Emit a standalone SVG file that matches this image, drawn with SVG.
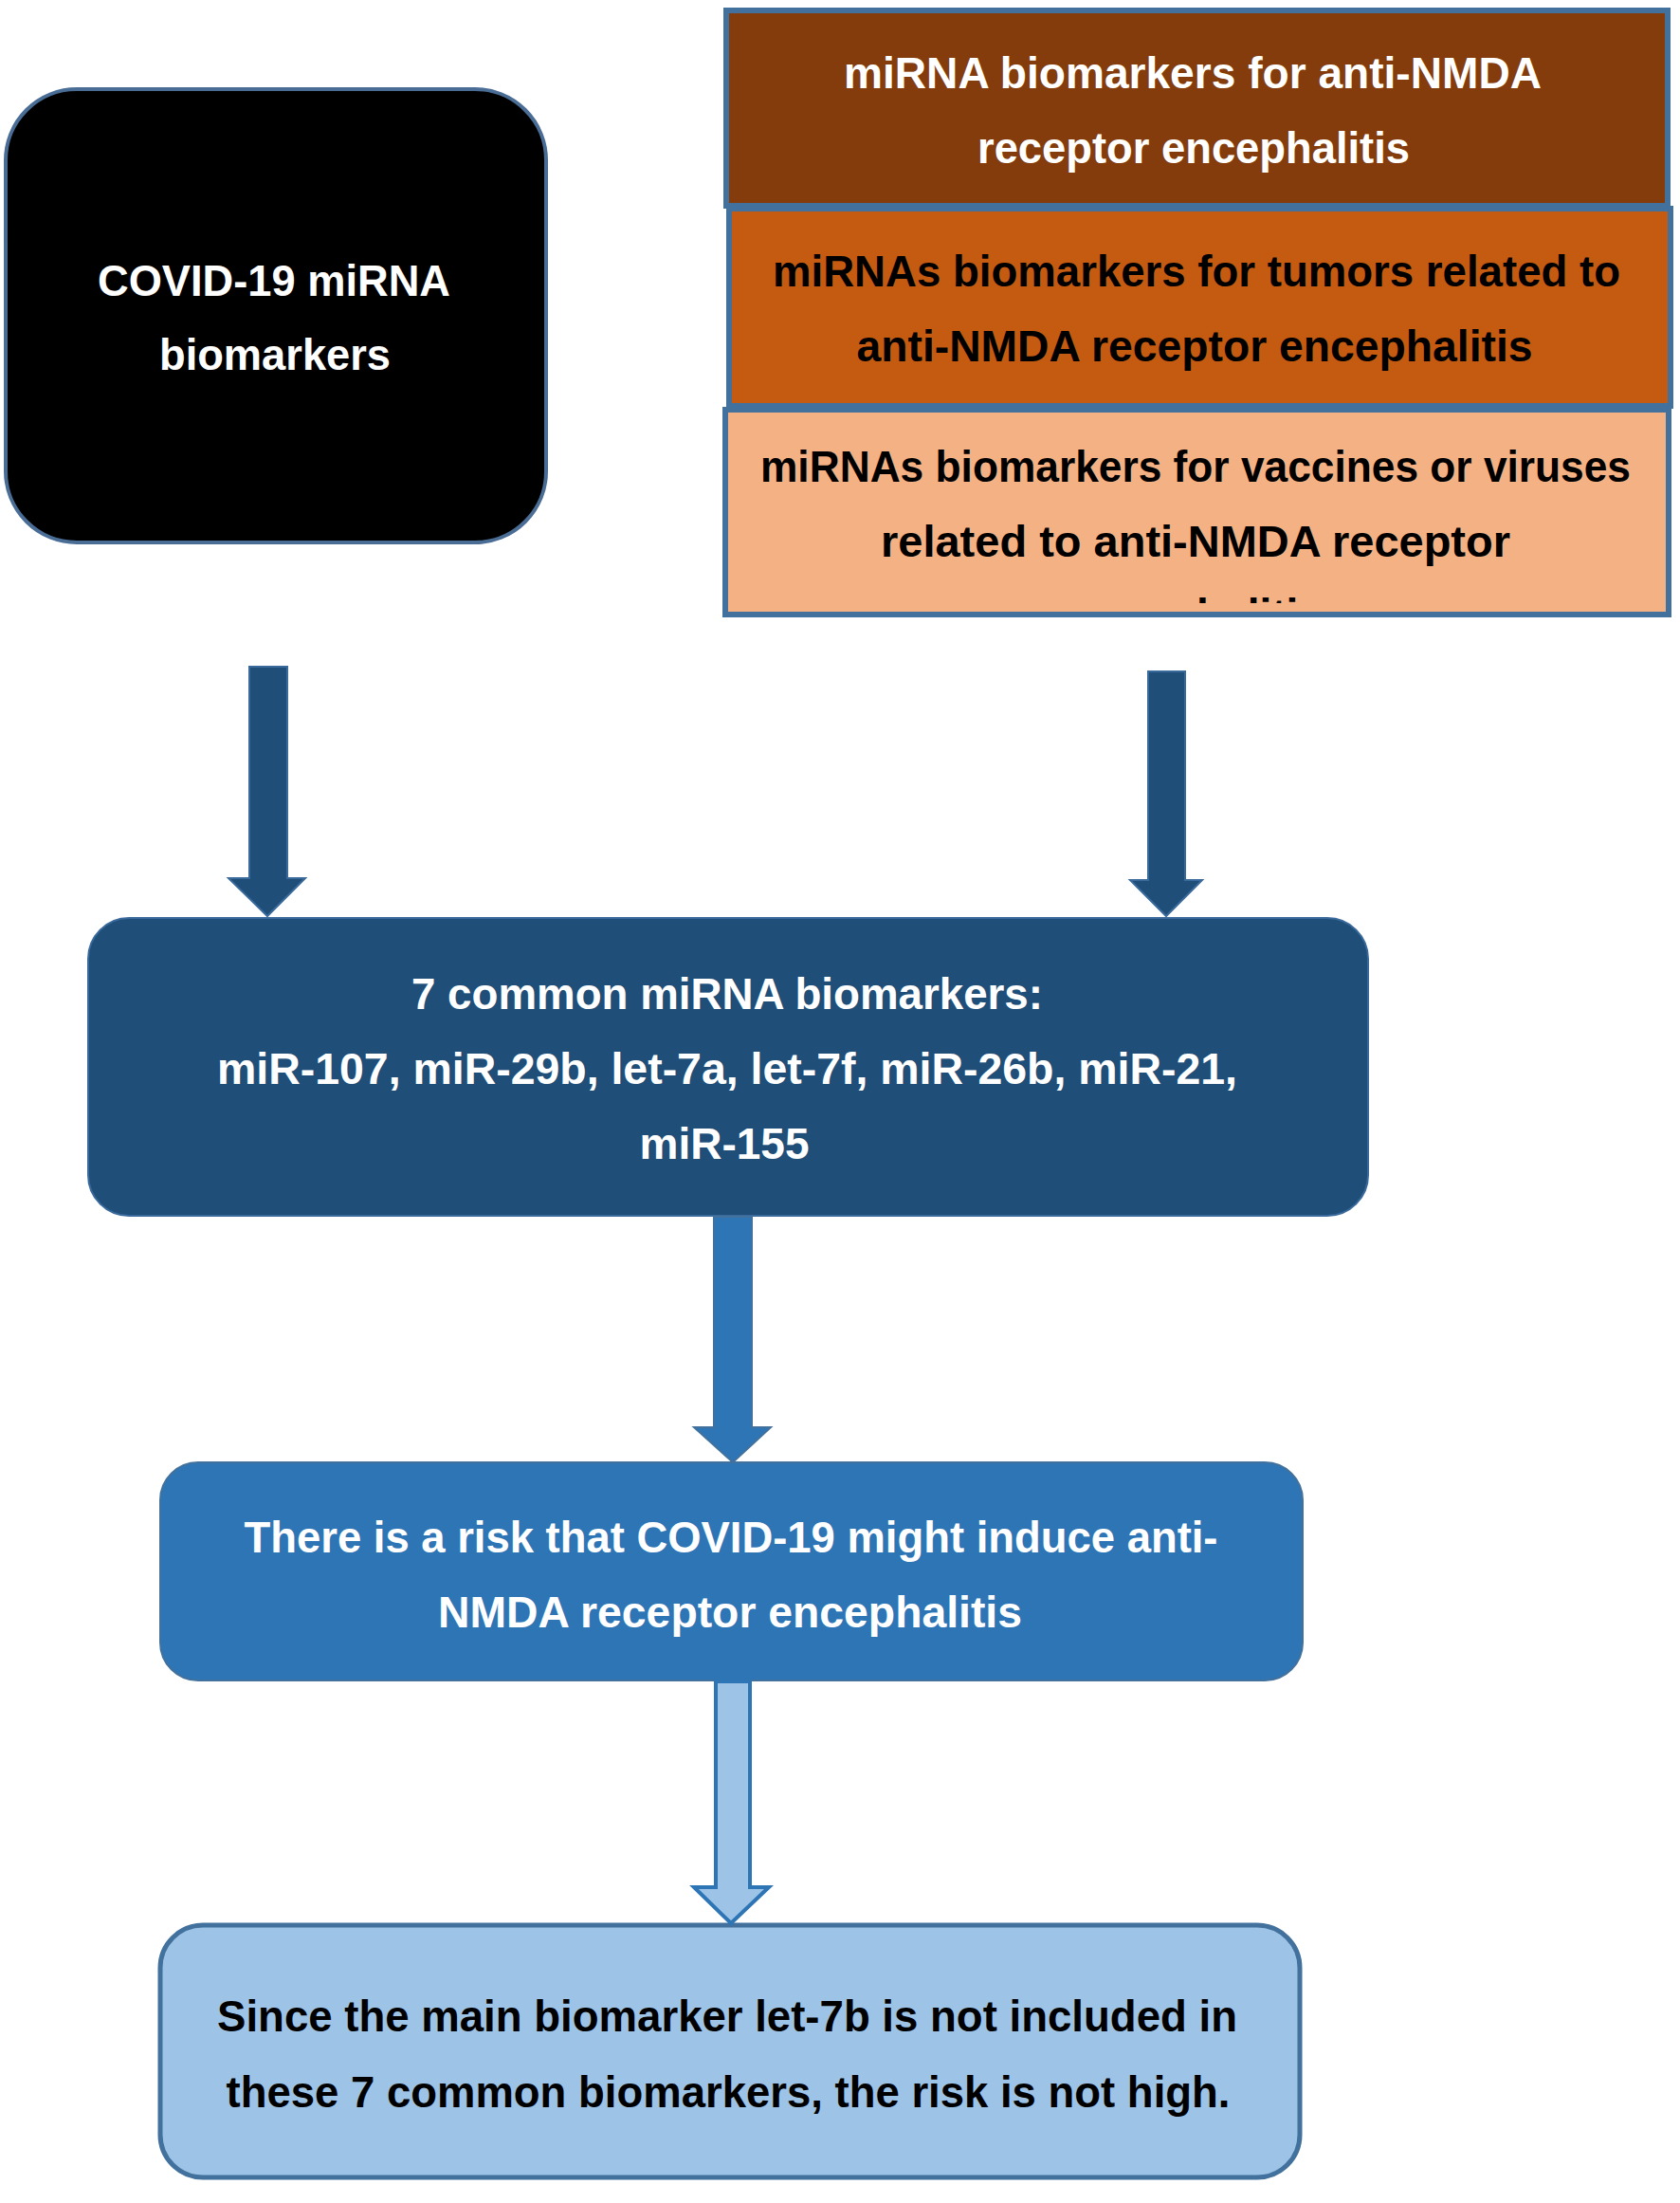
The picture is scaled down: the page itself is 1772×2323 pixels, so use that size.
<svg xmlns="http://www.w3.org/2000/svg" width="1772" height="2323" viewBox="0 0 1772 2323">
<style>
  text { font-family: "Liberation Sans", Arial, sans-serif; font-weight: bold; font-size: 46px; text-anchor: middle; }
  .w { fill: #ffffff; }
  .k { fill: #000000; }
  .stack { stroke: #41719c; stroke-width: 6; }
</style>
<defs>
  <clipPath id="clip3"><rect x="768" y="435" width="989" height="201"/></clipPath>
</defs>
<rect x="0" y="0" width="1772" height="2323" fill="#ffffff"/>

<g id="covid">
  <rect x="6" y="94" width="570" height="478" rx="75" ry="75" fill="#000000" stroke="#4a6d96" stroke-width="4"/>
  <text class="w" x="289" y="312" textLength="372" lengthAdjust="spacingAndGlyphs">COVID-19 miRNA</text>
  <text class="w" x="290" y="390" textLength="244" lengthAdjust="spacingAndGlyphs">biomarkers</text>
</g>

<g id="nmda">
  <rect class="stack" x="766" y="11" width="993" height="206" fill="#843c0c"/>
  <text class="w" x="1258" y="93" textLength="736" lengthAdjust="spacingAndGlyphs">miRNA biomarkers for anti-NMDA</text>
  <text class="w" x="1259" y="172" textLength="456" lengthAdjust="spacingAndGlyphs">receptor encephalitis</text>
</g>

<g id="tumors">
  <rect class="stack" x="769" y="220" width="993" height="208" fill="#c55a11"/>
  <text class="k" x="1262" y="302" textLength="894" lengthAdjust="spacingAndGlyphs">miRNAs biomarkers for tumors related to</text>
  <text class="k" x="1260" y="381" textLength="713" lengthAdjust="spacingAndGlyphs">anti-NMDA receptor encephalitis</text>
</g>

<g id="vaccines">
  <rect class="stack" x="765" y="432" width="995" height="216" fill="#f4b183"/>
  <text class="k" x="1261" y="508" textLength="918" lengthAdjust="spacingAndGlyphs">miRNAs biomarkers for vaccines or viruses</text>
  <text class="k" x="1261" y="587" textLength="664" lengthAdjust="spacingAndGlyphs">related to anti-NMDA receptor</text>
  <text class="k" x="1262" y="664" clip-path="url(#clip3)">encephalitis</text>
</g>

<g id="common">
  <rect x="93" y="968" width="1350" height="314" rx="43" ry="43" fill="#1f4e79" stroke="#3a6a9c" stroke-width="2"/>
  <text class="w" x="767" y="1064" textLength="666" lengthAdjust="spacingAndGlyphs">7 common miRNA biomarkers:</text>
  <text class="w" x="767" y="1143" textLength="1076" lengthAdjust="spacingAndGlyphs">miR-107, miR-29b, let-7a, let-7f, miR-26b, miR-21,</text>
  <text class="w" x="764" y="1222" textLength="179" lengthAdjust="spacingAndGlyphs">miR-155</text>
</g>

<g id="risk">
  <rect x="169" y="1542" width="1205" height="230" rx="40" ry="40" fill="#2e75b6" stroke="#41719c" stroke-width="2"/>
  <text class="w" x="771" y="1637" textLength="1027" lengthAdjust="spacingAndGlyphs">There is a risk that COVID-19 might induce anti-</text>
  <text class="w" x="770" y="1716" textLength="616" lengthAdjust="spacingAndGlyphs">NMDA receptor encephalitis</text>
</g>

<g id="conclusion">
  <rect x="169" y="2030" width="1202" height="266" rx="45" ry="45" fill="#9dc3e6" stroke="#41719c" stroke-width="5"/>
  <text class="k" x="767" y="2142" textLength="1076" lengthAdjust="spacingAndGlyphs">Since the main biomarker let-7b is not included in</text>
  <text class="k" x="768" y="2222" textLength="1059" lengthAdjust="spacingAndGlyphs">these 7 common biomarkers, the risk is not high.</text>
</g>

<g id="connectors">
  <path d="M263,703 L303,703 L303,926 L322,926 L282,966 L241,926 L263,926 Z" fill="#1f4e79" stroke="#3a6a9c" stroke-width="2"/>
  <path d="M1211,708 L1250,708 L1250,928 L1268,928 L1230,966 L1192,928 L1211,928 Z" fill="#1f4e79" stroke="#3a6a9c" stroke-width="2"/>
  <path d="M753,1283 L793,1283 L793,1505 L813,1505 L773,1542 L732,1505 L753,1505 Z" fill="#2e75b6" stroke="#41719c" stroke-width="2"/>
  <path d="M755,1773 L791,1773 L791,1990 L811,1990 L771,2028 L732,1990 L755,1990 Z" fill="#9dc3e6" stroke="#2e75b6" stroke-width="4"/>
</g>
</svg>
